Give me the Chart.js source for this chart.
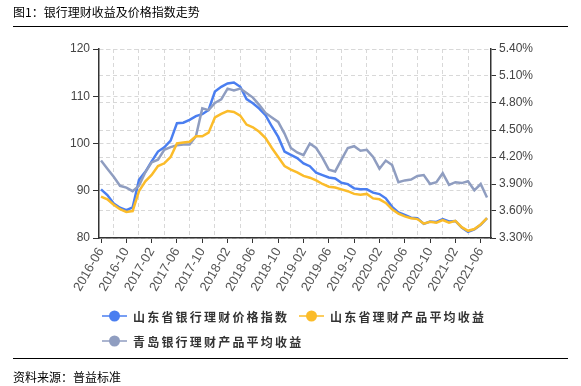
<!DOCTYPE html>
<html>
<head>
<meta charset="utf-8">
<script src="https://cdn.jsdelivr.net/npm/chart.js@4.4.0/dist/chart.umd.min.js"></script>
<style>
body { margin: 0; background: #fff; }
#wrap { position: relative; width: 581px; height: 386px; overflow: hidden; }
#title { position: absolute; left: 13px; top: 4px; font: 12px/16px "Noto Sans CJK SC", sans-serif; color: #000; }
#src { position: absolute; left: 13px; top: 369px; font: 12px/16px "Noto Sans CJK SC", sans-serif; color: #000; }
.rule { position: absolute; left: 13px; width: 555px; border-top: 1.5px solid #000; }
canvas { position: absolute; left: 0; top: 0; }
</style>
</head>
<body>
<div id="wrap">
  <canvas id="c" width="581" height="386"></canvas>
  <div id="title">图1：银行理财收益及价格指数走势</div>
  <div class="rule" style="top:26px"></div>
  <div class="rule" style="top:358px"></div>
  <div id="src">资料来源：普益标准</div>
</div>
<script>
// monthly, 2016-06 .. 2021-07
const months = [];
for (let y = 2016; y <= 2021; y++) {
  for (let m = 1; m <= 12; m++) {
    if ((y === 2016 && m < 6) || (y === 2021 && m > 7)) continue;
    months.push(y + '-' + String(m).padStart(2, '0'));
  }
}

const priceIndex = [90.3, 89.1, 87.3, 86.4, 85.9, 86.5, 92.3, 94.0, 96.2, 98.3,
  99.2, 100.6, 104.3, 104.4, 105.0, 105.8, 106.2, 107.1, 111.0, 112.0,
  112.7, 112.9, 112.0, 109.4, 108.5, 107.4, 106.0, 103.6, 101.4, 98.3,
  97.6, 96.9, 95.8, 95.2, 93.8, 93.3, 92.8, 92.6, 91.7, 91.4,
  90.5, 90.3, 90.3, 89.6, 89.3, 88.4, 86.6, 85.4, 84.9, 84.3,
  84.2, 83.0, 83.5, 83.4, 84.0, 83.5, 83.6, 82.2, 81.3, 81.8, 82.8, 84.2];

const sdYield = [3.76, 3.73, 3.67, 3.62, 3.59, 3.60, 3.82, 3.93, 4.00, 4.10,
  4.13, 4.20, 4.35, 4.36, 4.37, 4.43, 4.43, 4.47, 4.64, 4.68,
  4.71, 4.70, 4.66, 4.56, 4.53, 4.48, 4.41, 4.30, 4.20, 4.10,
  4.06, 4.03, 3.99, 3.97, 3.94, 3.90, 3.87, 3.86, 3.84, 3.82,
  3.79, 3.78, 3.79, 3.74, 3.73, 3.69, 3.62, 3.57, 3.54, 3.52,
  3.51, 3.46, 3.48, 3.47, 3.50, 3.47, 3.49, 3.42, 3.38, 3.40, 3.45, 3.52];

const qdYield = [4.16, 4.07, 3.98, 3.88, 3.86, 3.82, 3.88, 4.03, 4.14, 4.17,
  4.28, 4.31, 4.33, 4.34, 4.34, 4.43, 4.74, 4.72, 4.80, 4.84,
  4.96, 4.94, 4.96, 4.91, 4.86, 4.78, 4.69, 4.64, 4.59, 4.46,
  4.30, 4.25, 4.22, 4.35, 4.30, 4.19, 4.06, 4.04, 4.17, 4.30,
  4.32, 4.27, 4.28, 4.20, 4.07, 4.16, 4.11, 3.92, 3.94, 3.95,
  3.99, 4.00, 3.90, 3.92, 4.02, 3.89, 3.92, 3.91, 3.93, 3.83, 3.90, 3.75];

const seriesNames = ['山东省银行理财价格指数', '山东省理财产品平均收益', '青岛银行理财产品平均收益'];
const colors = ['#4a7ef0', '#fbbc2a', '#8f9dc0'];

const pts = arr => arr.map((v, i) => ({ x: i, y: v }));
const gridGray = '#d8d8d8';
const axisDark = '#333';
const numFont = { family: '"Liberation Sans", Arial, sans-serif', size: 12 };

const bottomLegend = {
  id: 'bottomLegend',
  afterDraw(chart) {
    const ctx = chart.ctx;
    const spots = [[102, 316], [299, 316], [102, 341]];
    chart.data.datasets.forEach((ds, k) => {
      const [x, y] = spots[k];
      ctx.save();
      ctx.strokeStyle = ds.borderColor;
      ctx.lineWidth = 1.5;
      ctx.beginPath();
      ctx.moveTo(x, y);
      ctx.lineTo(x + 25, y);
      ctx.stroke();
      ctx.fillStyle = ds.borderColor;
      ctx.beginPath();
      ctx.arc(x + 12.5, y, 5.5, 0, Math.PI * 2);
      ctx.fill();
      ctx.fillStyle = '#333';
      ctx.font = 'bold 12px "Noto Sans CJK SC", sans-serif';
      ctx.letterSpacing = '2.2px';
      ctx.textBaseline = 'middle';
      ctx.fillText(ds.label, x + 31, y + 1);
      ctx.restore();
    });
  }
};

new Chart(document.getElementById('c'), {
  type: 'line',
  data: {
    datasets: [
      { label: seriesNames[0], data: pts(priceIndex), yAxisID: 'yL', borderColor: colors[0], order: 2 },
      { label: seriesNames[1], data: pts(sdYield), yAxisID: 'yR', borderColor: colors[1], order: 0 },
      { label: seriesNames[2], data: pts(qdYield), yAxisID: 'yR', borderColor: colors[2], order: 1 }
    ]
  },
  options: {
    responsive: false,
    animation: false,
    devicePixelRatio: 1,
    datasets: { line: { borderWidth: 2.5, pointRadius: 0, tension: 0, fill: false } },
    layout: { padding: { left: 0, right: 30, top: 49, bottom: 86 } },
    plugins: { legend: { display: false }, tooltip: { enabled: false } },
    scales: {
      x: {
        type: 'linear',
        min: -0.32,
        max: 61.63,
        afterFit: s => { s.height = 62; },
        ticks: {
          stepSize: 1,
          includeBounds: false,
          autoSkip: false,
          minRotation: 60,
          maxRotation: 60,
          padding: 2,
          color: '#555',
          font: { family: '"Liberation Sans", Arial, sans-serif', size: 13 },
          callback: v => (v % 4 === 0 ? months[v] : '')
        },
        grid: {
          color: c => (c.tick && c.tick.value % 4 === 2 ? gridGray : 'rgba(0,0,0,0)'),
          tickColor: c => (c.tick && c.tick.value % 4 === 0 ? axisDark : 'rgba(0,0,0,0)'),
          tickLength: 5,
          tickBorderDash: []
        },
        border: { color: axisDark, width: 1.5, dash: [4, 3] }
      },
      yL: {
        position: 'left',
        min: 80,
        max: 120,
        afterFit: s => { s.width = 99; },
        ticks: { stepSize: 10, color: '#444', font: numFont, padding: 3 },
        grid: { color: gridGray, tickColor: axisDark, tickLength: 6, tickBorderDash: [] },
        border: { color: axisDark, width: 1.5, dash: [4, 3] }
      },
      yR: {
        position: 'right',
        min: 3.3,
        max: 5.4,
        afterFit: s => { s.width = 60; },
        ticks: { stepSize: 0.3, color: '#444', font: numFont, padding: 3, callback: v => v.toFixed(2) + '%' },
        grid: { color: gridGray, tickColor: axisDark, tickLength: 5, tickBorderDash: [] },
        border: { color: axisDark, width: 1.5, dash: [4, 3] }
      }
    }
  },
  plugins: [bottomLegend]
});
</script>
</body>
</html>
